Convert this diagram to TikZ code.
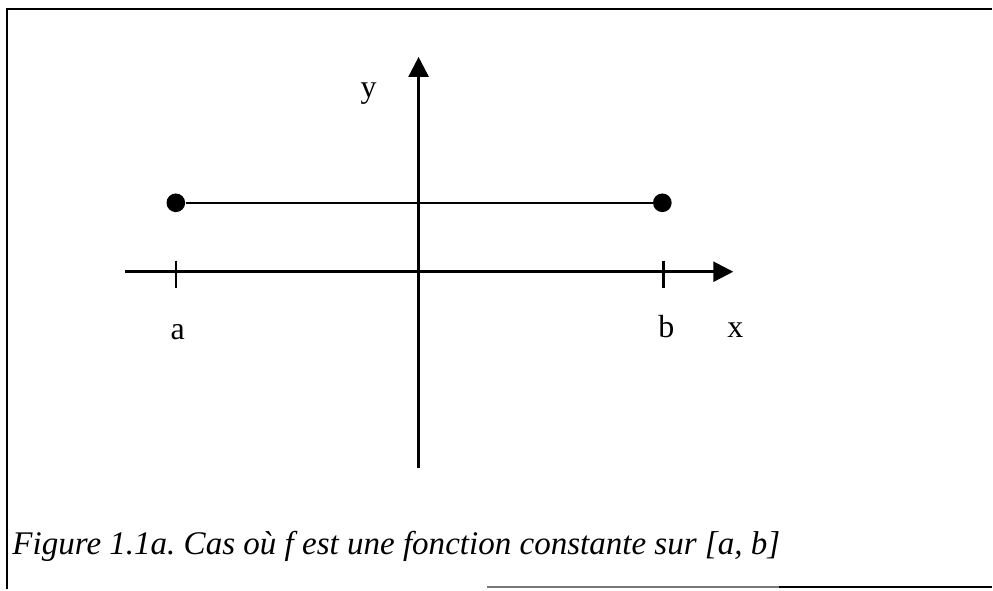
\documentclass[tikz,border=0pt]{standalone}
\usepackage{fontspec}
\setmainfont{Liberation Serif}
\usetikzlibrary{arrows.meta}
\frenchspacing

\tikzset{every picture/.style={line width=0.75pt}}
\tikzset{
  axisline/.style={line width=2pt,-{Triangle[length=15pt,width=15pt]}},
  endpoint/.style={circle,fill=black,inner sep=0pt,minimum size=14pt},
  axislabel/.style={anchor=base,inner sep=0.75pt,font=\fontsize{24}{28}\selectfont},
}

\begin{document}
\begin{tikzpicture}[x=0.75pt,y=0.75pt,yscale=-1,xscale=1]
\path (0,0) rectangle (993,590); %set diagram size

%Frame
\draw [line width=1.5]    (993,9) -- (7,9) -- (7,590) ;
\draw [line width=1.5, color={rgb, 255:red, 120; green, 120; blue, 120 }]    (487,588) -- (780,588) ;
\draw [line width=1.5]    (780,588) -- (993,588) ;

%Coordinates
\coordinate (origin) at (419,272) ;
\coordinate (ybot) at (419,468) ;
\coordinate (ytop) at (419,57) ;
\coordinate (xleft) at (125,272) ;
\coordinate (xright) at (734,272) ;

%Axes
\draw [axisline]    (ybot) -- (ytop) ;
\draw [axisline]    (xleft) -- (xright) ;
%Ticks
\draw [line width=1.75]    (176,261) -- (176,288) ;
\draw [line width=1.75]    (664,261) -- (664,288) ;

%Constant function
\node [endpoint] (fa) at (176,203) {};
\node [endpoint] (fb) at (663,203) {};
\draw [line width=1.5]    (fa) -- (fb) ;

% Text Node
\node [axislabel] (la) at (178,340) {a};
% Text Node
\node [axislabel] (lb) at (667,338) {b};
% Text Node
\node [axislabel] (lx) at (736,338) {x};
% Text Node
\node [axislabel] (ly) at (369,98) {y};
% Text Node
\node [anchor=base west,inner sep=0pt,font=\fontsize{24.8}{29}\selectfont\itshape] (cap) at (12,555) {Figure 1.1a. Cas où f est une fonction constante sur [a, b]};

\end{tikzpicture}
\end{document}
